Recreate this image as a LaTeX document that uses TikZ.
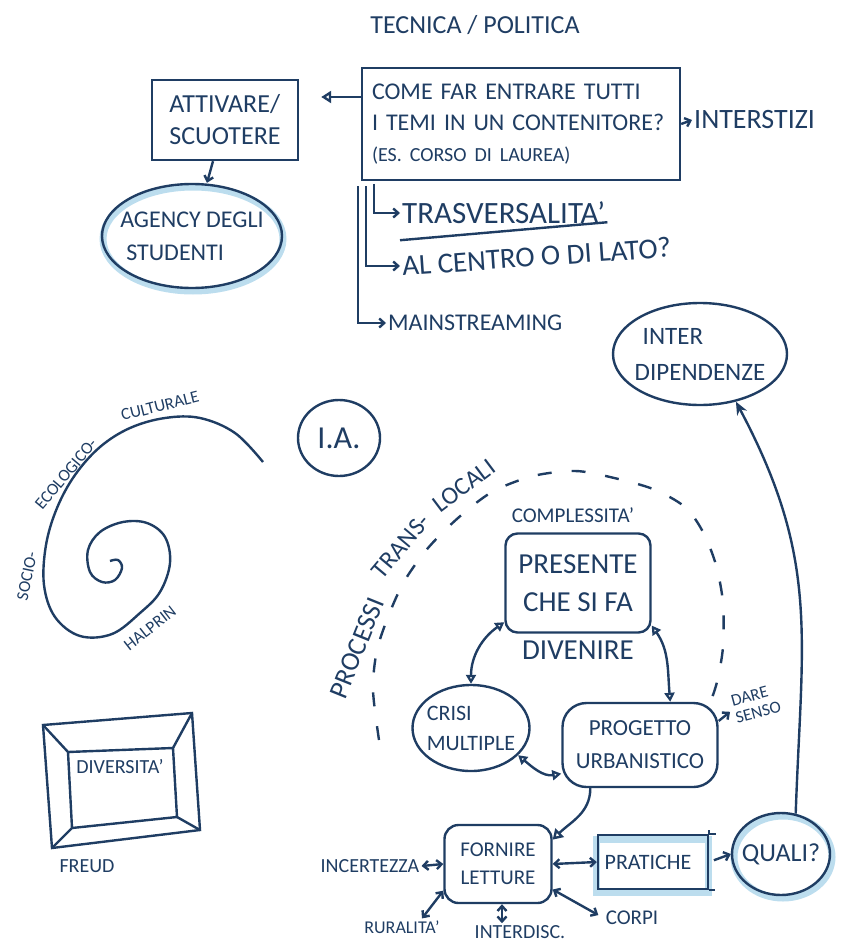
\documentclass[tikz,border=0pt]{standalone}
\usepackage{fontspec}
\setmainfont{Carlito}
\usetikzlibrary{shapes.geometric,arrows.meta}
\definecolor{ink}{HTML}{1F3D63}
\definecolor{glow}{HTML}{BCDDEE}
\newcommand{\fsz}[2]{\fontsize{#1}{#2}\selectfont}
\begin{document}
\begin{tikzpicture}[x=1pt,y=-1pt,line width=2.4pt,color=ink,
  box/.style={draw,rectangle,inner sep=0pt,align=left},
  oval/.style={draw,ellipse,inner sep=-24pt},
  lbl/.style={inner sep=1pt},
  tri/.style={-{Triangle[open,length=10pt,width=12pt]}},
  dtri/.style={{Triangle[open,length=9pt,width=10pt]}-{Triangle[open,length=9pt,width=10pt]}},
  bar/.style={-{Straight Barb[length=5pt,width=9pt]}},
  dbar/.style={{Straight Barb[length=5pt,width=9pt]}-{Straight Barb[length=5pt,width=9pt]}}]
\useasboundingbox (0,0) rectangle (866,944);

% title
\node[lbl,font=\fsz{26}{30}] (title) at (475,25) {TECNICA / POLITICA};

% top-left
\node[box,minimum width=146pt,minimum height=80pt,font=\fsz{26}{32}] (attiv) at (225,120) {ATTIVARE/\\SCUOTERE};
\draw[glow,line width=7pt] (193,239) ellipse [x radius=90, y radius=52];
\node[oval,minimum width=180pt,minimum height=104pt,align=left,font=\fsz{24}{33}] (agency) at (192,236) {AGENCY DEGLI\\\hspace*{6pt}STUDENTI};
\draw[bar] ([xshift=-12pt]attiv.south) -- ([xshift=15pt]agency.north);

% big box
\node[box,minimum width=318pt,minimum height=112pt,text width=298pt,font=\fsz{24}{31}] (big) at (521,124)
  {COME FAR ENTRARE TUTTI\\I TEMI IN UN CONTENITORE?\\{\fsz{20}{24}(ES. CORSO DI LAUREA)}};
\draw[tri,shorten >=22pt] ([yshift=27pt]big.west) -- ([yshift=27pt]big.west -| attiv.east);
\node[lbl,anchor=west,font=\fsz{28}{30}] (interst) at (692,120) {INTERSTIZI};
\draw[bar] (big.east) -- (interst.west);

\node[lbl,anchor=west,font=\fsz{31}{34}] (trasv) at (400,213) {TRASVERSALITA'};
\draw ([yshift=-14pt]trasv.south west) -- ([yshift=4pt]trasv.south east);
\node[lbl,anchor=west,rotate=4,font=\fsz{29}{32}] (centro) at (400,266) {AL CENTRO O DI LATO?};
\node[lbl,anchor=west,font=\fsz{24}{28}] (mainstr) at (386,323) {MAINSTREAMING};
\coordinate (b1) at (374,184);
\coordinate (b2) at (366,186);
\coordinate (b3) at (358,186);
\draw[bar] (b1) |- (trasv.west);
\draw[bar] (b2) |- (centro.west);
\draw[bar] (b3) |- (mainstr.west);

% interdipendenze
\node[oval,minimum width=174pt,minimum height=102pt,align=left,font=\fsz{25}{36}] (inter) at (700,354) {\hspace*{8pt}INTER\\DIPENDENZE};

% I.A.
\node[oval,minimum width=82pt,minimum height=76pt,font=\fsz{32}{34}] (ia) at (339,438) {I.A.};

% spiral
\draw plot[smooth,tension=0.6] coordinates {(263,462) (235,433) (200,418) (165,418) (130,428) (100,447) (75,475) (57,508) (46,545) (44,585) (55,617) (80,636) (112,634) (140,613) (160,592) (170,563) (165,537) (147,523) (123,522) (100,532) (88,550) (90,572) (102,582) (115,580) (122,568) (118,560) (110,561)};
\node[lbl,rotate=78,font=\fsz{17}{18}] (socio) at (27,576) {SOCIO-};
\node[lbl,rotate=50,font=\fsz{17}{18}] (ecolo) at (66,474) {ECOLOGICO-};
\node[lbl,rotate=14,font=\fsz{17}{18}] (cultu) at (160,406) {CULTURALE};
\node[lbl,rotate=38,font=\fsz{17}{18}] (halp) at (150,628) {HALPRIN};

% diversita frame
\draw (43,725) -- (192,713) -- (200,830) -- (52,848) -- cycle;
\draw (68,752) -- (173,748) -- (177,817) -- (72,828) -- cycle;
\draw (43,725) -- (68,752);
\draw (192,713) -- (173,748);
\draw (200,830) -- (177,817);
\draw (52,848) -- (72,828);
\node[lbl,font=\fsz{20}{22}] (divers) at (120,767) {DIVERSITA'};
\node[lbl,font=\fsz{20}{22}] (freud) at (87,866) {FREUD};

% dashed arc
\draw[dash pattern=on 14pt off 20pt] plot[smooth] coordinates {(379,740) (373,690) (377,650) (390,612) (405,580) (428,548) (458,518) (492,492) (533,476) (575,471) (610,477) (653,489) (685,507) (703,532) (716,565) (723,603) (723,647) (717,682) (709,706)};
\node[lbl,rotate=68,font=\fsz{27}{28}] (proc) at (357,648) {PROCESSI};
\node[lbl,rotate=50,font=\fsz{25}{28}] (trans) at (401,546) {TRANS-};
\node[lbl,rotate=37,font=\fsz{25}{28}] (locali) at (464,486) {LOCALI};

% central cycle
\node[lbl,font=\fsz{21}{24}] (compl) at (573,515) {COMPLESSITA'};
\node[box,rounded corners=12pt,align=center,minimum width=145pt,minimum height=99pt,font=\fsz{29}{38}] (pres) at (578,583) {PRESENTE\\CHE SI FA};
\node[lbl,font=\fsz{29}{30}] (div) at (578,650) {DIVENIRE};
\node[oval,minimum width=117pt,minimum height=86pt,align=left,font=\fsz{22}{30}] (crisi) at (471,728) {CRISI\\MULTIPLE};
\node[box,rounded corners=24pt,align=center,minimum width=155pt,minimum height=84pt,font=\fsz{23}{33}] (prog) at (640,745) {PROGETTO\\URBANISTICO};
\node[lbl,rotate=15,align=left,font=\fsz{17}{18}] (dare) at (756,704) {DARE\\SENSO};
\draw[dtri] (pres.208) to[out=215,in=90] (crisi.north);
\draw[dtri] (pres.-30) to[out=-55,in=95] (prog.55);
\draw[dtri] (crisi.-30) to[out=-40,in=190] (prog.200);
\draw[bar,shorten >=2pt] (prog.17) -- (dare.west);

% bottom chain
\node[box,rounded corners=14pt,align=center,minimum width=107pt,minimum height=78pt,font=\fsz{21}{28}] (forn) at (498,864) {FORNIRE\\LETTURE};
\draw[tri] (prog.-139) to[out=-90,in=45] (forn.24);
\node[lbl,font=\fsz{20}{22}] (inc) at (370,866) {INCERTEZZA};
\draw[dbar] (inc.east) -- (forn.west);
\node[lbl,font=\fsz{18}{20}] (rur) at (402,927) {RURALITA'};
\draw[dbar] ([xshift=20pt]rur.north) -- (forn.206);
\node[lbl,font=\fsz{20}{22}] (idisc) at (520,932) {INTERDISC.};
\draw[dbar] ([xshift=4pt]forn.south) -- ([xshift=-18pt]idisc.north);
\node[lbl,font=\fsz{21}{22}] (corpi) at (632,918) {CORPI};
\draw[dbar,shorten >=6pt] (forn.-25) -- (corpi.west);

\draw[glow,line width=7pt] (596,839) rectangle (708,892);
\node[box,minimum width=110pt,minimum height=54pt,align=center,font=\fsz{22}{26}] (prat) at (653,862) {PRATICHE\hspace*{10pt}};
\draw (prat.north east) -- ++(7,0);
\draw (prat.south east) -- ++(6,0);
\draw (prat.north east) -- ++(0,-4);
\draw[dbar] (forn.east) -- (prat.west);

\draw[glow,line width=7pt] (783,857) ellipse [x radius=49, y radius=41];
\node[oval,minimum width=98pt,minimum height=82pt,font=\fsz{26}{28}] (quali) at (781,854) {QUALI?};
\draw[bar,shorten <=5pt] (prat.east) -- (quali.west);
\draw[-{Stealth[length=13pt,width=11pt]}] (quali.70) to[out=88,in=-62,looseness=1.1] (inter.-53);
\end{tikzpicture}
\end{document}
